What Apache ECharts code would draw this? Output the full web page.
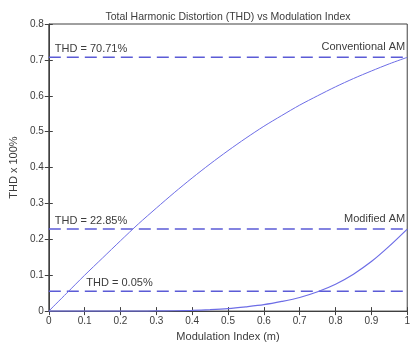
<!DOCTYPE html>
<html>
<head>
<meta charset="utf-8">
<script src="https://cdn.jsdelivr.net/npm/echarts@6/dist/echarts.min.js"></script>
<style>
  html, body { margin: 0; padding: 0; background: #ffffff; }
  #chart { width: 413px; height: 347px; }
</style>
</head>
<body>
<div id="chart"></div>
<script>
// Modulation index samples
const modIndex = [0, 0.05, 0.1, 0.15, 0.2, 0.25, 0.3, 0.35, 0.4, 0.45, 0.5,
                  0.55, 0.6, 0.65, 0.7, 0.75, 0.8, 0.85, 0.9, 0.95, 1.0];

// THD of conventional AM
const thdConventional = [0, 0.050, 0.100, 0.148, 0.196, 0.243, 0.287, 0.330, 0.371, 0.410, 0.447,
                         0.482, 0.515, 0.545, 0.574, 0.600, 0.625, 0.648, 0.669, 0.689, 0.7071];

// THD of modified AM
const thdModified = [0, 0, 0, 0, 0, 0, 0.0005, 0.001, 0.002, 0.004, 0.007,
                     0.012, 0.018, 0.027, 0.038, 0.054, 0.075, 0.103, 0.138, 0.181, 0.2285];

// Reference levels and their captions
const refLevels = [0.7071, 0.2285, 0.055];
const refLeftText = ['THD = 70.71%', 'THD = 22.85%', 'THD = 0.05%'];
const refRightText = ['Conventional AM', 'Modified AM', ''];

const xTicks = ['0', '0.1', '0.2', '0.3', '0.4', '0.5', '0.6', '0.7', '0.8', '0.9', '1'];
const yTicks = ['0', '0.1', '0.2', '0.3', '0.4', '0.5', '0.6', '0.7', '0.8'];

const FONT = 'Liberation Sans, Arial, sans-serif';
const TXT = '#3c3c3c';
const AXIS = '#404040';
const CURVE = '#6d6de6';
const DASH = '#5b5bd6';

const chart = echarts.init(document.getElementById('chart'), null, { renderer: 'canvas' });

function pairs(xs, ys) { return xs.map((x, i) => [x, ys[i]]); }

const refSeries = refLevels.map((lvl) => ({
  type: 'line',
  data: [[0, lvl], [1, lvl]],
  symbol: 'none',
  lineStyle: { color: DASH, width: 1.5, type: [12, 6] },
  silent: true,
  z: 3
}));

const option = {
  backgroundColor: '#ffffff',
  animation: false,
  title: {
    text: 'Total Harmonic Distortion (THD) vs Modulation Index',
    left: 223, top: 7, textAlign: 'center',
    textStyle: { fontFamily: FONT, fontSize: 10.5, fontWeight: 'normal', color: TXT }
  },
  grid: {
    left: 47, right: 3, top: 24, bottom: 33,
    show: true, borderColor: AXIS, borderWidth: 1, backgroundColor: '#ffffff'
  },
  xAxis: [{
    type: 'value', min: 0, max: 1, interval: 0.1,
    name: 'Modulation Index (m)', nameLocation: 'middle', nameGap: 18,
    nameTextStyle: { fontFamily: FONT, fontSize: 11, color: TXT },
    axisLine: { show: true, lineStyle: { color: AXIS } },
    axisTick: { show: true, inside: true, length: 4, lineStyle: { color: AXIS } },
    axisLabel: {
      fontFamily: FONT, fontSize: 10, color: TXT, margin: 5,
      formatter: (v) => xTicks[Math.round(v * 10)]
    },
    splitLine: { show: false }
  }, {
    type: 'value', min: 0, max: 1, interval: 0.1, position: 'top',
    axisLine: { show: false },
    axisTick: { show: true, inside: true, length: 4, lineStyle: { color: AXIS } },
    axisLabel: { show: false },
    splitLine: { show: false }
  }],
  yAxis: [{
    type: 'value', min: 0, max: 0.8, interval: 0.1,
    name: 'THD x 100%', nameLocation: 'middle', nameGap: 24,
    nameTextStyle: { fontFamily: FONT, fontSize: 11, color: TXT },
    axisLine: { show: true, lineStyle: { color: AXIS } },
    axisTick: { show: true, inside: true, length: 4, lineStyle: { color: AXIS } },
    axisLabel: {
      fontFamily: FONT, fontSize: 10, color: TXT, margin: 5,
      formatter: (v) => yTicks[Math.round(v * 10)]
    },
    splitLine: { show: false }
  }, {
    type: 'value', min: 0, max: 0.8, interval: 0.1, position: 'right',
    axisLine: { show: false },
    axisTick: { show: true, inside: true, length: 4, lineStyle: { color: AXIS } },
    axisLabel: { show: false },
    splitLine: { show: false }
  }],
  series: [
    {
      type: 'line', name: 'Conventional AM',
      data: pairs(modIndex, thdConventional),
      symbol: 'none', smooth: 0.3,
      lineStyle: { color: CURVE, width: 1 },
      z: 4
    },
    {
      type: 'line', name: 'Modified AM',
      data: pairs(modIndex, thdModified),
      symbol: 'none', smooth: 0.3,
      lineStyle: { color: CURVE, width: 1.2 },
      z: 4
    }
  ].concat(refSeries)
};

chart.setOption(option);

// Captions above the reference levels, anchored through the axes
const leftStart = [0, 0, 0.088];
const captions = [];
refLevels.forEach((lvl, i) => {
  const a = chart.convertToPixel({ gridIndex: 0 }, [leftStart[i], lvl]);
  captions.push({
    type: 'text', x: a[0] + 6, y: a[1] - 3, z: 10, silent: true,
    style: { text: refLeftText[i], fill: TXT, font: '11px ' + FONT,
             textAlign: 'left', textVerticalAlign: 'bottom' }
  });
  if (refRightText[i]) {
    const b = chart.convertToPixel({ gridIndex: 0 }, [1, lvl]);
    captions.push({
      type: 'text', x: b[0] - 2, y: b[1] - 5, z: 10, silent: true,
      style: { text: refRightText[i], fill: TXT, font: '11px ' + FONT,
               textAlign: 'right', textVerticalAlign: 'bottom' }
    });
  }
});
chart.setOption({ graphic: captions });
</script>
</body>
</html>
